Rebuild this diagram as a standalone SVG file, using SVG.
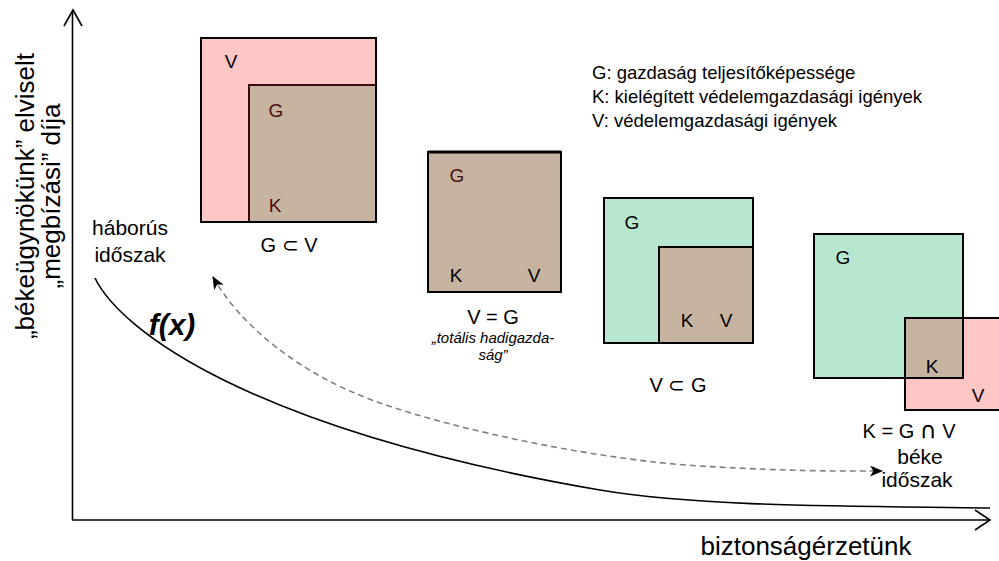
<svg xmlns="http://www.w3.org/2000/svg" width="999" height="561" viewBox="0 0 999 561">
  <style>
    text { font-family: "Liberation Sans", Arial, sans-serif; fill: #000; }
    .lbl { font-size: 19px; text-anchor: middle; }
    .dk { fill: #4a0e0e; }
    .cap { font-size: 20px; text-anchor: middle; }
    .period { font-size: 21px; text-anchor: middle; }
    .leg { font-size: 18.5px; }
    .axis-title { font-size: 26px; text-anchor: middle; }
    .sym { font-family: "DejaVu Sans", sans-serif; font-size: 23px; }
    .v { fill: #ffc6c6; }
    .g { fill: #b8e7d0; }
    .k { fill: #c7b4a0; }
    .edge { fill: none; stroke: #000; stroke-width: 2; }
    .edge-dk { fill: none; stroke: #3a0a0a; stroke-width: 2; }
    .axis { fill: none; stroke: #000; stroke-width: 1.6; }
  </style>
  <defs>
    <marker id="head" viewBox="0 0 12 10" refX="11" refY="5" markerWidth="13" markerHeight="11" markerUnits="userSpaceOnUse" orient="auto-start-reverse">
      <path d="M0,0 L12,5 L0,10 L3,5 Z" fill="#000"/>
    </marker>
  </defs>

  <!-- axes -->
  <g id="axes">
    <line class="axis" x1="72.5" y1="520" x2="72.5" y2="11"/>
    <polyline class="axis" points="64,26 73,10 82,26"/>
    <line class="axis" x1="72" y1="520" x2="989" y2="520"/>
    <polyline class="axis" points="975,510 990,520 975,530"/>
    <text class="axis-title" x="806" y="555">biztonságérzetünk</text>
    <g transform="translate(0,196) rotate(-90)">
      <text class="axis-title" x="0" y="34">„békeügynökünk” elviselt</text>
      <text class="axis-title" x="0" y="60">„megbízási” díja</text>
    </g>
  </g>

  <!-- connectors: f(x) curve and dashed transition arrow -->
  <g id="connectors">
    <path d="M95,278 C120,330 250,430 600,490 C700,507 850,506 990,508" fill="none" stroke="#000" stroke-width="1.6"/>
    <path d="M213,277 C240,325 300,375 380,403 S600,460 700,466 S850,471 882,471" fill="none" stroke="#808080" stroke-width="1.6" stroke-dasharray="6,4" marker-start="url(#head)" marker-end="url(#head)"/>
  </g>

  <g id="war-label">
    <text class="period" x="130" y="235">háborús</text>
    <text class="period" x="130" y="262">időszak</text>
  </g>

  <g id="fx-label">
    <text x="172" y="335" font-size="30" font-weight="bold" font-style="italic" text-anchor="middle">f(x)</text>
  </g>

  <!-- legend -->
  <g id="legend">
    <text class="leg" x="592" y="79">G: gazdaság teljesítőképessége</text>
    <text class="leg" x="592" y="103">K: kielégített védelemgazdasági igények</text>
    <text class="leg" x="592" y="127">V: védelemgazdasági igények</text>
  </g>

  <!-- state 1: G inside V -->
  <g id="state-g-in-v">
    <rect class="v" x="201" y="38" width="175" height="184"/>
    <rect class="k" x="249" y="85" width="127" height="137"/>
    <rect class="edge-dk" x="249" y="85" width="127" height="137"/>
    <rect class="edge" x="201" y="38" width="175" height="184"/>
    <text class="lbl" x="231" y="68">V</text>
    <text class="lbl dk" x="276" y="117">G</text>
    <text class="lbl dk" x="275" y="212">K</text>
    <text class="cap" x="289" y="252">G ⊂ V</text>
  </g>

  <!-- state 2: V equals G -->
  <g id="state-v-eq-g">
    <rect class="k" x="428" y="152" width="133" height="140"/>
    <rect class="edge" x="428" y="152" width="133" height="140"/>
    <line x1="428" y1="152" x2="561" y2="152" stroke="#000" stroke-width="3"/>
    <text class="lbl dk" x="457" y="182">G</text>
    <text class="lbl" x="456" y="282">K</text>
    <text class="lbl" x="534" y="282">V</text>
    <text class="cap" x="493" y="324">V = G</text>
    <text x="493" y="343" font-size="15" font-style="italic" text-anchor="middle">„totális hadigazda-</text>
    <text x="493" y="360" font-size="15" font-style="italic" text-anchor="middle">ság”</text>
  </g>

  <!-- state 3: V inside G -->
  <g id="state-v-in-g">
    <rect class="g" x="604" y="198" width="149" height="145"/>
    <rect class="k" x="659" y="247" width="94" height="96"/>
    <rect class="edge" x="659" y="247" width="94" height="96"/>
    <rect class="edge" x="604" y="198" width="149" height="145"/>
    <text class="lbl" x="632" y="229">G</text>
    <text class="lbl" x="687" y="327">K</text>
    <text class="lbl" x="726" y="327">V</text>
    <text class="cap" x="678" y="392">V ⊂ G</text>
  </g>

  <!-- state 4: K is the intersection of G and V -->
  <g id="state-intersection">
    <rect class="g" x="814" y="234" width="149" height="144"/>
    <rect class="v" x="905" y="318" width="96" height="92"/>
    <rect class="k" x="905" y="318" width="58" height="60"/>
    <rect class="edge" x="814" y="234" width="149" height="144"/>
    <rect class="edge" x="905" y="318" width="96" height="92"/>
    <text class="lbl" x="843" y="264">G</text>
    <text class="lbl" x="932" y="373">K</text>
    <text class="lbl" x="978" y="402">V</text>
    <text class="cap" x="909" y="438">K = G <tspan class="sym">∩</tspan> V</text>
    <text class="period" x="920" y="464">béke</text>
    <text class="period" x="917" y="487">időszak</text>
  </g>
</svg>
